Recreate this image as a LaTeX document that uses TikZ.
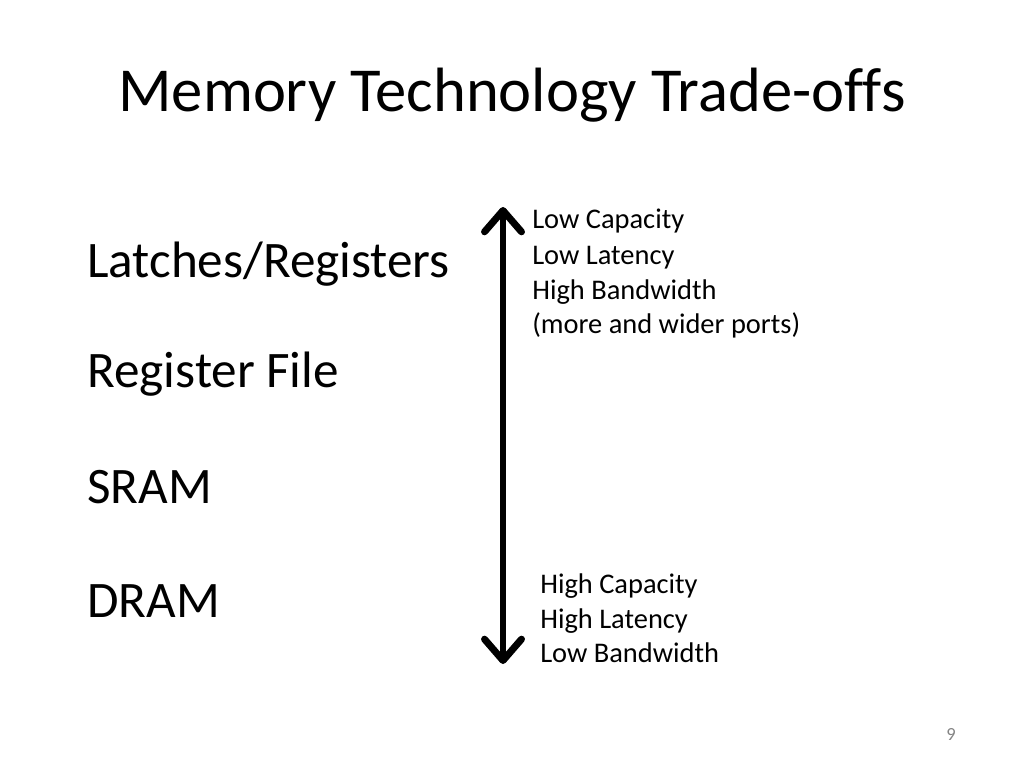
\documentclass[tikz,border=0pt]{standalone}
\usepackage{fontspec}
\setmainfont{Carlito}[Ligatures=NoCommon]
\usetikzlibrary{positioning}
\usetikzlibrary{arrows.meta}

\begin{document}
\begin{tikzpicture}[x=0.703125pt,y=-0.703125pt,
  titletext/.style={font=\fontsize{44}{53}\selectfont,inner sep=0pt,anchor=base},
  leveltext/.style={font=\fontsize{36}{43}\selectfont,inner sep=0pt,anchor=base west},
  notetext/.style={font=\fontsize{20}{24}\selectfont,inner sep=0pt,anchor=base west}]
 \useasboundingbox[fill=white](0,0) rectangle (1024,767);
 \node[titletext] (title) at (512,112) {Memory Technology Trade-offs};
 % memory levels
 \node[leveltext] (latch) at (87,277) {Latches/Registers};
 \node[leveltext] (regfile) at (87,387) {Register File};
 \node[leveltext] (sram) at (87,503) {SRAM};
 \node[leveltext] (dram) at (87,617) {DRAM};
 % trade-off arrow
 \coordinate (top) at (503,207);
 \coordinate (bot) at (503,664);
 \draw[line width=4.9pt,line cap=round,{Straight Barb[length=15pt,width=26pt,round]}-{Straight Barb[length=15pt,width=26pt,round]}](top)--(bot);
 % notes at the top
 \node[notetext] (lowcap) at (532,229) {Low Capacity};
 \node[notetext] (lowlat) at (532,264) {Low Latency};
 \node[notetext] (highbw) at (532,299) {High Bandwidth};
 \node[notetext] (ports) at (532,333) {(more and wider ports)};
 % notes at the bottom
 \node[notetext] (highcap) at (540,593) {High Capacity};
 \node[notetext] (highlat) at (540,628) {High Latency};
 \node[notetext] (lowbw) at (540,662) {Low Bandwidth};
 \node[font=\fontsize{13}{15}\selectfont,text=black!48,inner sep=0pt,anchor=base] (page) at (951,740) {9};
\end{tikzpicture}
\end{document}
